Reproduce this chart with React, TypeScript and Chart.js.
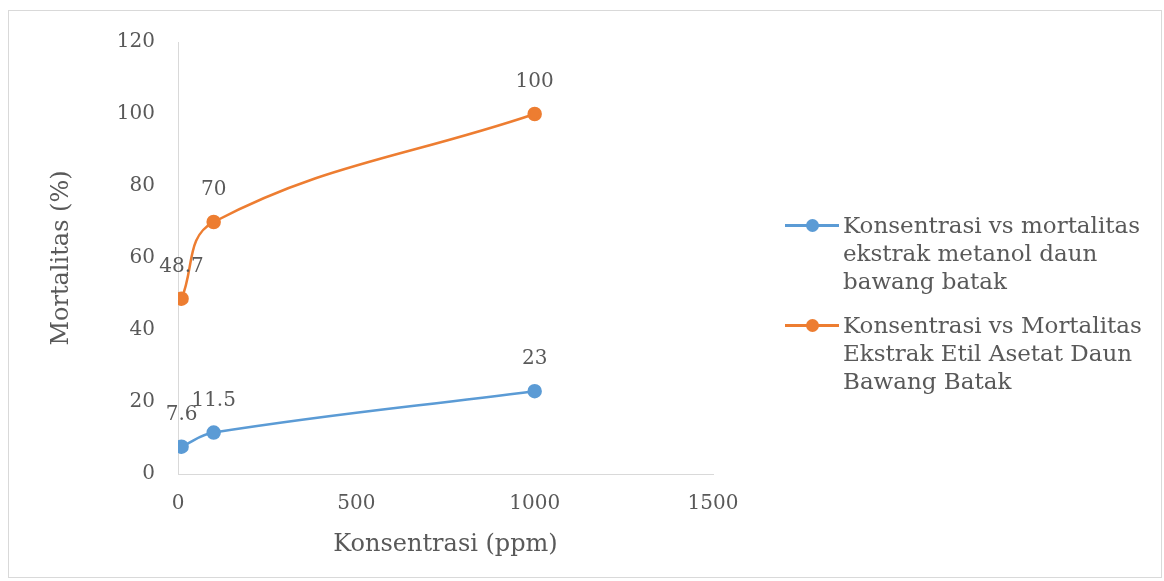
import React, { useEffect, useRef } from "react";
import { Chart, registerables } from "chart.js";

Chart.register(...registerables);

const concentrations = [10, 100, 1000];
const metanolValues = [7.6, 11.5, 23];
const etilValues = [48.7, 70, 100];
const seriesNames = [
  ["Konsentrasi vs mortalitas", "ekstrak metanol daun", "bawang batak"],
  ["Konsentrasi vs Mortalitas", "Ekstrak Etil Asetat Daun", "Bawang Batak"],
];
const xTitle = "Konsentrasi (ppm)";
const yTitle = "Mortalitas (%)";
const xTicks = { min: 0, max: 1500, step: 500 };
const yTicks = { min: 0, max: 120, step: 20 };

const BLUE = "#5B9BD5";
const ORANGE = "#ED7D31";
const TEXT = "#595959";
const FONT = "'DejaVu Serif', 'Liberation Serif', serif";

const labelPlugin = {
  id: "pointLabels",
  afterDatasetsDraw(chart: any) {
    const ctx = chart.ctx;
    ctx.save();
    ctx.font = `20px ${FONT}`;
    ctx.fillStyle = TEXT;
    ctx.textAlign = "center";
    ctx.textBaseline = "middle";
    chart.data.datasets.forEach((ds: any, i: number) => {
      const meta = chart.getDatasetMeta(i);
      meta.data.forEach((el: any, j: number) => {
        const v = ds.data[j].y;
        ctx.fillText(String(v), el.x, el.y - 32);
      });
    });
    ctx.restore();
  },
};

export default function App() {
  const ref = useRef<HTMLCanvasElement>(null);
  useEffect(() => {
    if (!ref.current) return;
    const mk = (vals: number[]) => concentrations.map((x, i) => ({ x, y: vals[i] }));
    const chart = new Chart(ref.current, {
      type: "scatter",
      data: {
        datasets: [
          {
            label: seriesNames[0].join(" "),
            data: mk(metanolValues),
            borderColor: BLUE,
            backgroundColor: BLUE,
            showLine: true,
            borderWidth: 2.5,
            pointRadius: 6,
            tension: 0.4,
          },
          {
            label: seriesNames[1].join(" "),
            data: mk(etilValues),
            borderColor: ORANGE,
            backgroundColor: ORANGE,
            showLine: true,
            borderWidth: 2.5,
            pointRadius: 6,
            tension: 0.4,
          },
        ],
      },
      options: {
        animation: false,
        responsive: false,
        layout: { padding: { left: 40, top: 42, right: 451, bottom: 20 } },
        plugins: { legend: { display: false }, tooltip: { enabled: false } },
        scales: {
          x: {
            type: "linear",
            min: xTicks.min,
            max: xTicks.max,
            grid: { display: false },
            border: { display: true, color: "#d9d9d9", width: 1 },
            ticks: {
              stepSize: xTicks.step,
              color: TEXT,
              font: { family: FONT, size: 20 },
              padding: 10,
              callback: (v: any) => String(v),
            },
            title: { display: true, text: xTitle, color: TEXT, font: { family: FONT, size: 24 }, padding: { top: 0, bottom: 2 } },
            afterFit: (s: any) => { s.height = 87; },
          },
          y: {
            type: "linear",
            min: yTicks.min,
            max: yTicks.max,
            grid: { display: false },
            border: { display: true, color: "#d9d9d9", width: 1 },
            ticks: {
              stepSize: yTicks.step,
              color: TEXT,
              font: { family: FONT, size: 20 },
              padding: 15,
              callback: (v: any) => String(v),
            },
            title: { display: true, text: yTitle, color: TEXT, font: { family: FONT, size: 24 }, padding: { top: 7, bottom: 0 } },
            afterFit: (s: any) => { s.width = 138; },
          },
        },
      },
      plugins: [labelPlugin],
    });
    return () => chart.destroy();
  }, []);

  const colors = [BLUE, ORANGE];
  const tops = [211, 311];
  return (
    <div style={{ position: "fixed", left: 0, top: 0, width: 1164, height: 581, background: "#fff" }}>
      <div style={{ position: "absolute", left: 8, top: 10, width: 1154, height: 568, border: "1px solid #d9d9d9", boxSizing: "border-box" }} />
      <canvas ref={ref} width={1164} height={581} style={{ position: "absolute", left: 0, top: 0, width: 1164, height: 581 }} />
      {seriesNames.map((lines, i) => (
        <div key={i} style={{ position: "absolute", left: 785, top: tops[i] }}>
          <div style={{ position: "absolute", left: 0, top: 13, width: 54, height: 3, background: colors[i] }} />
          <div style={{ position: "absolute", left: 21, top: 8, width: 13, height: 13, borderRadius: "50%", background: colors[i] }} />
          <div style={{ position: "absolute", left: 58, top: 0, whiteSpace: "nowrap", fontFamily: FONT, fontSize: 23, lineHeight: "28px", color: TEXT }}>
            {lines.map((l, k) => (
              <div key={k}>{l}</div>
            ))}
          </div>
        </div>
      ))}
    </div>
  );
}
